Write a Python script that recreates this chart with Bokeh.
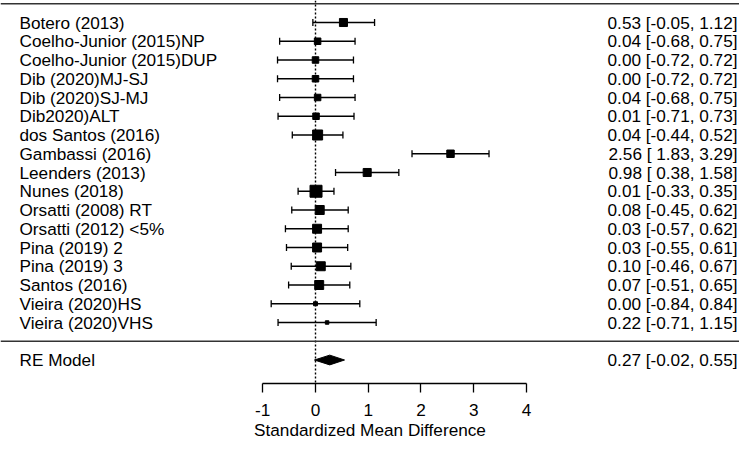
from bokeh.plotting import figure
from bokeh.models import (ColumnDataSource, Whisker, TeeHead, Span, FixedTicker, LinearAxis,
                          Range1d, CustomJSTickFormatter)
from bokeh.core.properties import value
from bokeh.embed import file_html
from bokeh.resources import INLINE

# ---- data ----
studies = ["Botero (2013)", "Coelho-Junior (2015)NP", "Coelho-Junior (2015)DUP",
           "Dib (2020)MJ-SJ", "Dib (2020)SJ-MJ", "Dib2020)ALT", "dos Santos (2016)",
           "Gambassi (2016)", "Leenders (2013)", "Nunes (2018)", "Orsatti (2008) RT",
           "Orsatti (2012) <5%", "Pina (2019) 2", "Pina (2019) 3", "Santos (2016)",
           "Vieira (2020)HS", "Vieira (2020)VHS"]
est = [0.53, 0.04, 0.00, 0.00, 0.04, 0.01, 0.04, 2.56, 0.98, 0.01, 0.08, 0.03, 0.03, 0.10, 0.07, 0.00, 0.22]
lower = [-0.05, -0.68, -0.72, -0.72, -0.68, -0.71, -0.44, 1.83, 0.38, -0.33, -0.45, -0.57, -0.55, -0.46, -0.51, -0.84, -0.71]
upper = [1.12, 0.75, 0.72, 0.72, 0.75, 0.73, 0.52, 3.29, 1.58, 0.35, 0.62, 0.62, 0.61, 0.67, 0.65, 0.84, 1.15]
weights = [6.9, 5.6, 5.6, 5.6, 5.6, 5.6, 8.6, 6.4, 6.9, 10.3, 7.7, 7.7, 7.7, 7.7, 7.7, 3.4, 3.0]
re_label = "RE Model"
re_est, re_lb, re_ub = 0.27, -0.02, 0.55
xticks = [-1, 0, 1, 2, 3, 4]
xlabel = "Standardized Mean Difference"

FONT = "Liberation Sans"
FS = "17.2px"

k = len(studies)
rows = list(range(k, 0, -1))
ci_text = [f"{e:4.2f} [{l:5.2f}, {u:4.2f}]" for e, l, u in zip(est, lower, upper)]
sizes = [w * 1.165 for w in weights]

src = ColumnDataSource(dict(study=studies, est=est, lower=lower, upper=upper,
                            row=rows, ci=ci_text, size=sizes))

# pixel geometry: x=0 at px 315, 52.74 px per unit; frame spans px 0..739
W, H = 739, 442
px_per = 52.74
x0 = -315 / px_per
x1 = (W - 315) / px_per
left_x = (19 - 315) / px_per
right_x = (737 - 315) / px_per

# rows: px = 340.75 - 18.75*row ; frame from px 0 to 383
row_px = 18.75
y_top = 340.75 / row_px
y_bot = (340.75 - 383) / row_px

p = figure(width=W, height=H, output_backend="svg", toolbar_location=None,
           x_axis_type=None, y_axis_type=None,
           x_range=Range1d(x0, x1), y_range=Range1d(y_bot, y_top),
           min_border=0, min_border_bottom=H - 383)
p.outline_line_color = None
p.grid.visible = False
p.background_fill_color = "white"
p.border_fill_color = "white"

# reference lines
p.add_layout(Span(location=0, dimension="height", line_color="black",
                  line_width=1.4, line_dash="2 2"))
p.add_layout(Span(location=k + 1, dimension="width", line_color="#333333", line_width=1.5))
p.add_layout(Span(location=0, dimension="width", line_color="#333333", line_width=1.5))

# CIs
head = dict(size=7, line_color="black", line_width=1.3)
p.add_layout(Whisker(source=src, base="row", lower="lower", upper="upper", dimension="width",
                     line_color="black", line_width=1.3,
                     lower_head=TeeHead(**head), upper_head=TeeHead(**head)))
p.scatter(x="est", y="row", size="size", marker="square", color="black", source=src)

# summary diamond
h = 0.26
p.patch(x=[re_lb, re_est, re_ub, re_est], y=[-1, -1 + h, -1, -1 - h], color="black")

# texts
p.text(x=left_x, y="row", text="study", source=src, text_font=value(FONT),
       text_font_size=FS, text_baseline="middle", text_align="left", text_color="black")
p.text(x=right_x, y="row", text="ci", source=src, text_font=value(FONT),
       text_font_size=FS, text_baseline="middle", text_align="right", text_color="black")
p.text(x=[left_x], y=[-1], text=[re_label], text_font=value(FONT),
       text_font_size=FS, text_baseline="middle", text_align="left", text_color="black")
p.text(x=[right_x], y=[-1], text=[f"{re_est:4.2f} [{re_lb:5.2f}, {re_ub:4.2f}]"],
       text_font=value(FONT), text_font_size=FS, text_baseline="middle",
       text_align="right", text_color="black")

# axis
ax = LinearAxis(ticker=FixedTicker(ticks=xticks), bounds=(xticks[0], xticks[-1]),
                axis_label=xlabel,
                formatter=CustomJSTickFormatter(code="return tick.toString();"))
ax.axis_line_color = "black"
ax.axis_line_width = 1.3
ax.major_tick_line_color = "black"
ax.major_tick_line_width = 1.3
ax.major_tick_out = 9
ax.major_tick_in = 0
ax.minor_tick_line_color = None
ax.major_label_standoff = 11
ax.major_label_text_font = FONT
ax.major_label_text_font_size = FS
ax.major_label_text_color = "black"
ax.axis_label_text_font = FONT
ax.axis_label_text_font_size = FS
ax.axis_label_text_font_style = "normal"
ax.axis_label_text_color = "black"
ax.axis_label_standoff = 1
p.add_layout(ax, "below")

open("out.html", "w").write(file_html(p, INLINE))
